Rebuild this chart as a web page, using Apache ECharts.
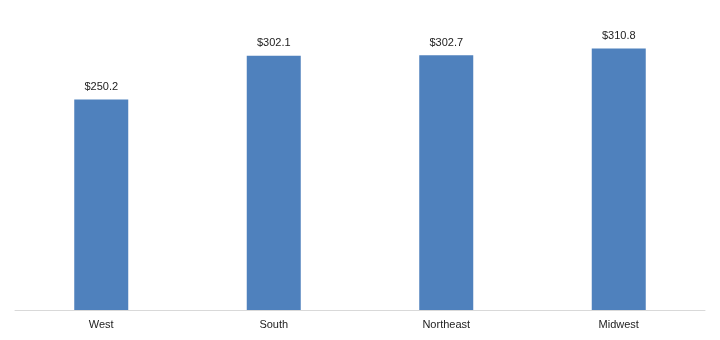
<!DOCTYPE html>
<html><head><meta charset="utf-8">
<script src="https://cdn.jsdelivr.net/npm/echarts@6/dist/echarts.min.js"></script>
<style>html,body{margin:0;padding:0;background:#fff}#c{width:720px;height:340px}</style>
</head><body><div id="c"></div>
<script>
const categories = ['West', 'South', 'Northeast', 'Midwest'];
const values = [250.2, 302.1, 302.7, 310.8];
const chart = echarts.init(document.getElementById('c'), null, {renderer: 'canvas'});
chart.setOption({
  animation: false,
  grid: {left: 15, right: 15, top: 15.4, bottom: 30, containLabel: false},
  xAxis: {
    type: 'category', data: categories,
    axisLine: {lineStyle: {color: '#d9d9d9', width: 1}},
    axisTick: {show: false},
    axisLabel: {color: '#222', fontFamily: 'Liberation Sans', fontSize: 11, margin: 9}
  },
  yAxis: {type: 'value', min: 0, max: 350, show: false, splitLine: {show: false}},
  series: [{
    type: 'bar', data: values, barWidth: 54,
    itemStyle: {color: '#4F81BD'},
    label: {show: true, position: 'top', distance: 7, color: '#222', fontFamily: 'Liberation Sans', fontSize: 11,
      formatter: p => '$' + p.value.toFixed(1)}
  }]
});
</script></body></html>
